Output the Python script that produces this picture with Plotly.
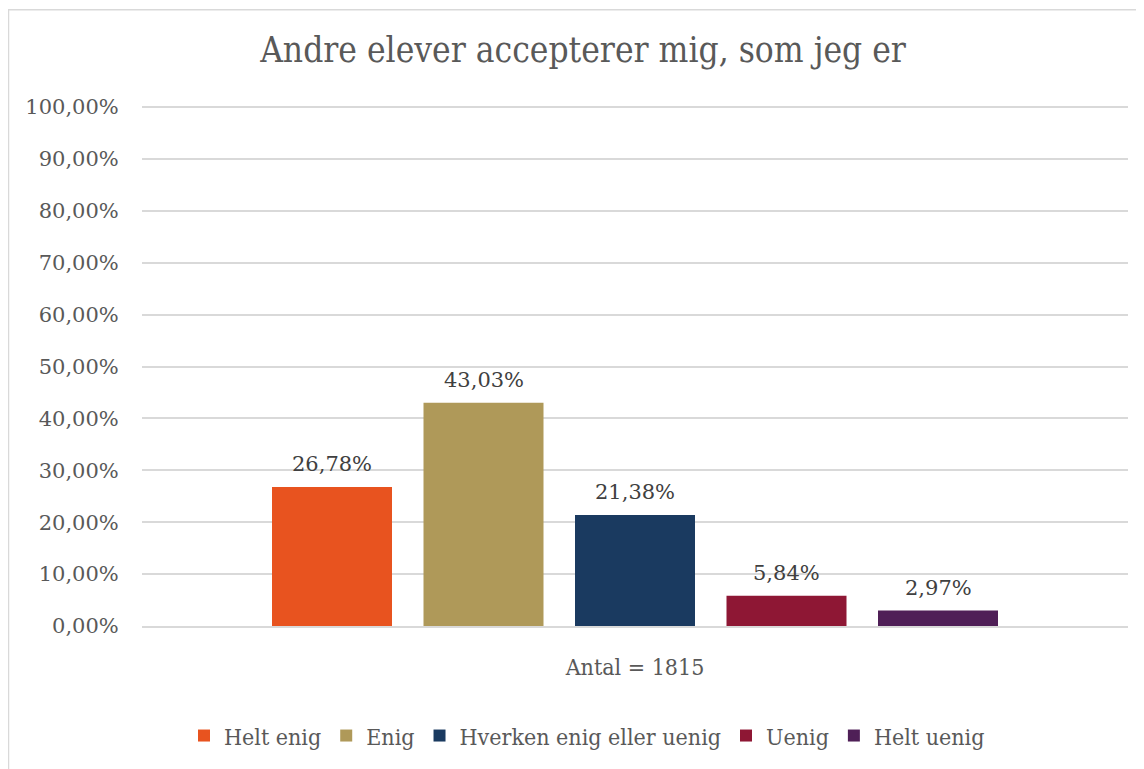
import plotly.graph_objects as go

category_label = "Antal = 1815"
series_names = ["Helt enig", "Enig", "Hverken enig eller uenig", "Uenig", "Helt uenig"]
series_values = [0.2678, 0.4303, 0.2138, 0.0584, 0.0297]
series_colors = ["#E8531F", "#AF9959", "#1A3A60", "#8E1734", "#4F1F57"]
title_text = "Andre elever accepterer mig, som jeg er"

FONT = "DejaVu Serif"
FONT_C = "DejaVu Serif Condensed"
OFF = 8  # page body margin
W, H = 1136, 761
# plot area in page pixels: x 142..1128, y 106..628
ml, mt = 142 - OFF, 106 - OFF
mr = W - (1128 - OFF)
mb = H - (628 - OFF)
pw, ph = W - ml - mr, H - mt - mb

def px_x(p):
    return (p - OFF - ml) / pw

def px_y(p):
    return (H - mb - (p - OFF)) / ph

n = len(series_names)
center = (n - 1) / 2
half_span = pw / 151.5 / 2
bar_width = 120 / 151.5

fig = go.Figure()
for i, (name, val, col) in enumerate(zip(series_names, series_values, series_colors)):
    fig.add_trace(go.Bar(
        x=[i], y=[val], name=name, marker_color=col, width=bar_width,
        marker_line_width=0, hoverinfo="name+y",
    ))
    fig.add_annotation(
        x=i, y=val, xref="x", yref="y", text=f"{val*100:.2f}%".replace(".", ","),
        showarrow=False, yanchor="middle", yshift=23,
        font=dict(family=FONT, size=21, color="#404040"),
    )

fig.update_layout(
    width=W, height=H,
    margin=dict(l=ml, r=mr, t=mt, b=mb),
    paper_bgcolor="white", plot_bgcolor="white",
    separators=",.",
    title=dict(text=title_text, xref="container", x=(583 - OFF) / W, xanchor="center",
               yref="container", y=1 - (50 - OFF) / H, yanchor="middle",
               font=dict(family=FONT_C, size=35, color="#595959")),
    font=dict(family=FONT, color="#595959"),
    showlegend=True,
    legend=dict(orientation="h", x=px_x(587), xanchor="center",
                y=px_y(738), yanchor="middle",
                font=dict(family=FONT_C, size=23, color="#595959"),
                itemwidth=30, tracegroupgap=0),
    yaxis=dict(range=[0, 1.002], tickvals=[i / 10 for i in range(11)], tickformat=".2%",
               showgrid=True, gridcolor="#D9D9D9", gridwidth=1.5,
               zeroline=False, showline=False,
               tickfont=dict(family=FONT, size=21, color="#595959"),
               ticks="outside", ticklen=18, tickcolor="rgba(0,0,0,0)"),
    xaxis=dict(range=[center - half_span, center + half_span],
               tickvals=[center], ticktext=[category_label],
               showgrid=False, zeroline=False,
               showline=True, linecolor="#D9D9D9", linewidth=1.5,
               tickfont=dict(family=FONT_C, size=23, color="#595959"),
               ticks="outside", ticklen=20, tickcolor="rgba(0,0,0,0)"),
    shapes=[dict(type="rect", xref="paper", yref="paper",
                 x0=px_x(8.5), x1=px_x(1150), y0=px_y(9.5), y1=px_y(780),
                 line=dict(color="#D9D9D9", width=1.5), fillcolor="rgba(0,0,0,0)",
                 layer="below")],
)

fig.write_html("out.html")
